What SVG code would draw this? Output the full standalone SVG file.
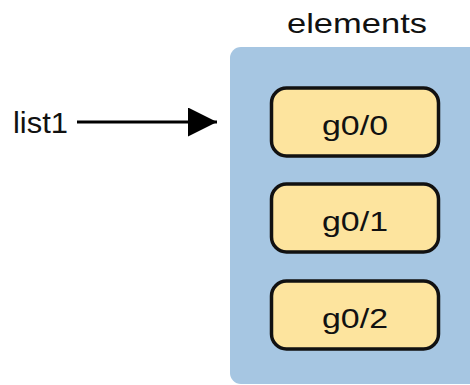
<svg xmlns="http://www.w3.org/2000/svg" width="470" height="385" viewBox="0 0 470 385">
  <style>
    .lbl { font-family: "Liberation Sans", Arial, sans-serif; fill: #111; }
    .item rect { fill: #fde49e; stroke: #111; stroke-width: 3.5; }
  </style>
  <defs>
    <marker id="arrow" markerUnits="userSpaceOnUse" markerWidth="30" markerHeight="30" refX="29" refY="14.5" orient="auto">
      <path d="M0,0 L29,14.5 L0,29 Z" fill="#000"/>
    </marker>
  </defs>
  <rect width="470" height="385" fill="#fff"/>
  <g id="elements">
    <rect x="230" y="47" width="260" height="337" rx="11" fill="#a6c6e2"/>
    <text class="lbl" x="357" y="33" font-size="28" text-anchor="middle" textLength="140" lengthAdjust="spacingAndGlyphs">elements</text>
  </g>
  <g id="list1">
    <text class="lbl" x="13" y="133" font-size="29" textLength="55" lengthAdjust="spacingAndGlyphs">list1</text>
  </g>
  <g id="item0" class="item">
    <rect x="271.5" y="88" width="167" height="68" rx="15"/>
    <text class="lbl" x="355" y="135" font-size="28" text-anchor="middle" textLength="66" lengthAdjust="spacingAndGlyphs">g0/0</text>
  </g>
  <g id="item1" class="item">
    <rect x="271.5" y="184" width="167" height="68" rx="15"/>
    <text class="lbl" x="355" y="231" font-size="28" text-anchor="middle" textLength="66" lengthAdjust="spacingAndGlyphs">g0/1</text>
  </g>
  <g id="item2" class="item">
    <rect x="271.5" y="281" width="167" height="68" rx="15"/>
    <text class="lbl" x="355" y="328" font-size="28" text-anchor="middle" textLength="66" lengthAdjust="spacingAndGlyphs">g0/2</text>
  </g>
  <g id="connectors">
    <line x1="77" y1="122" x2="217" y2="122" stroke="#000" stroke-width="3" marker-end="url(#arrow)"/>
  </g>
</svg>
